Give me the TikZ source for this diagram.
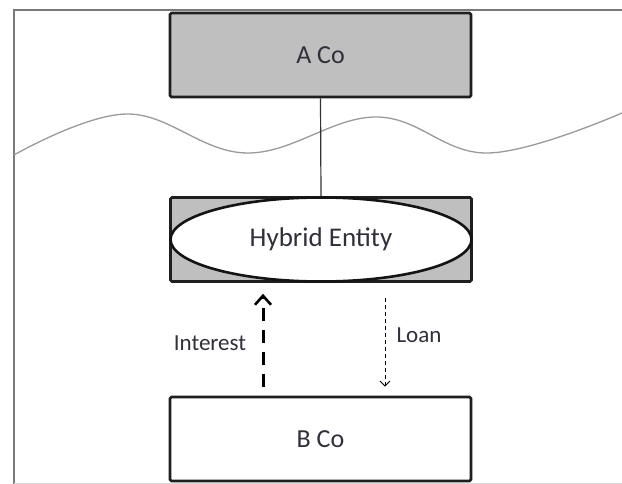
\documentclass[tikz,border=0pt]{standalone}
\usepackage{fontspec}
\setmainfont{Carlito}
\usetikzlibrary{arrows.meta,shapes.geometric}
\definecolor{boxgray}{HTML}{BFBFBF}
\definecolor{txt}{HTML}{30303A}
\definecolor{framegray}{HTML}{7A7A7A}
\definecolor{wavegray}{HTML}{9A9A9A}
\tikzset{
  entity/.style={draw=black!88, line width=2.6pt, rounded corners=1.5pt, minimum width=301pt, minimum height=84pt, inner sep=0pt, text=txt, font=\fontsize{26}{30}\selectfont},
  hybell/.style={ellipse, draw=black!92, line width=2.6pt, fill=white, minimum width=301pt, minimum height=84pt, inner sep=0pt, text=txt, font=\fontsize{27}{31}\selectfont},
  flowlabel/.style={text=txt, font=\fontsize{23}{27}\selectfont, inner sep=0pt},
  interestarrow/.style={line width=3pt, dash pattern=on 13pt off 9pt, -{Straight Barb[length=9pt,width=16pt,line width=2.6pt]}},
  loanarrow/.style={line width=0.9pt, dash pattern=on 4pt off 3pt, -{Straight Barb[length=5pt,width=10pt,line width=0.9pt]}},
}
\begin{document}
\begin{tikzpicture}[x=1pt,y=-1pt]
\useasboundingbox (0,0) rectangle (622,484);
\fill[white] (0,0) rectangle (622,484);
% frame
\draw[framegray, line width=1.6pt] (14,484) -- (14,10) -- (622,10);
\draw[black!15, line width=0.8pt] (14,483.4) -- (622,483.4);
% wave
\draw[wavegray, line width=1.3pt] plot[smooth, tension=0.65] coordinates {(14,155) (127,114) (247,153) (376,117) (488,153) (622,113)};
% nodes
\node[entity, fill=boxgray] (aco) at (320.5,55) {A Co};
\node[entity, fill=boxgray] (hybbox) at (321,239.5) {};
\node[hybell] (hyb) at (321,239.5) {Hybrid Entity};
\node[entity, fill=white] (bco) at (320.5,439) {B Co};
% connector
\draw[black!80, line width=1.2pt] (aco.south) -- (hybbox.north);
\coordinate (ix) at (263,0);
\coordinate (lx) at (385,0);
\draw[interestarrow] (bco.north -| ix) ++(0,-9) -- ([yshift=-11pt]hybbox.south -| ix);
\draw[loanarrow] ([yshift=-15pt]hybbox.south -| lx) -- ([yshift=9pt]bco.north -| lx);
\node[flowlabel] (intlbl) at (210,343) {Interest};
\node[flowlabel] (loanlbl) at (419,335) {Loan};
\end{tikzpicture}
\end{document}
